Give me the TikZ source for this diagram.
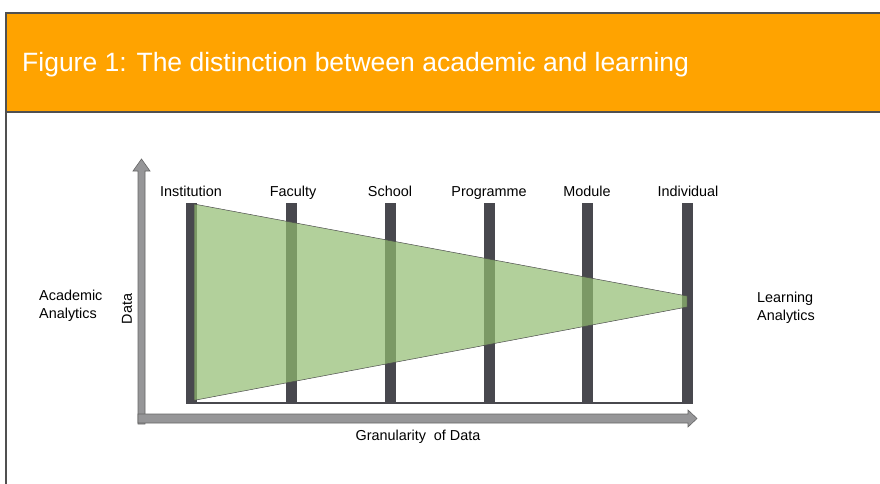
\documentclass[tikz,border=0pt]{standalone}
\usepackage{fontspec}
\setmainfont{Liberation Sans}
\definecolor{hdr}{RGB}{255,163,0}
\definecolor{frame}{RGB}{80,80,80}
\definecolor{barc}{RGB}{72,72,78}
\definecolor{grn}{RGB}{145,188,112}
\definecolor{axisc}{RGB}{150,150,152}
\begin{document}
\begin{tikzpicture}[x=1pt,y=-1pt,
  lbl/.style={font=\fontsize{14.4}{18}\selectfont, inner sep=0pt},
  collbl/.style={lbl, anchor=base},
  axisarrow/.style={fill=axisc, draw=gray!80!black, line width=0.6pt}]
\useasboundingbox (0,0) rectangle (880,484);
% header
\fill[hdr] (6,13) rectangle (880,112);
\draw[frame, line width=2pt] (880,13) -- (6,13) -- (6,484);
\draw[frame, line width=1.5pt] (6,112) -- (880,112);
\node[anchor=base west, inner sep=0pt, text=white, font=\fontsize{26.5}{30}\selectfont] (title) at (22,72) {Figure 1: The distinction between academic and learning};
% axes
\filldraw[axisarrow] (138,424) -- (138,171) -- (133,171) -- (141.5,159) -- (150,171) -- (145,171) -- (145,424) -- cycle;
\filldraw[axisarrow] (138,414) -- (688,414) -- (688,410) -- (697,418.5) -- (688,427) -- (688,423) -- (138,423) -- cycle;
% baseline between bars
\draw[barc, line width=2pt] (191,403) -- (687,403);
% bars
\foreach \x/\n in {191.5/b1,291/b2,390/b3,489/b4,587.5/b5,687.5/b6}{
  \fill[barc] (\x-5.5,203) rectangle (\x+5.5,404);
  \coordinate (\n) at (\x,203);
}
% green wedge
\filldraw[fill=grn, fill opacity=0.7, draw=gray!60!black, line width=0.5pt]
  (194,204) -- (687,296) -- (687,307) -- (196,400) -- (194,400) -- cycle;
% column labels
\node[collbl] (l1) at (191,196) {Institution};
\node[collbl] (l2) at (293,196) {Faculty};
\node[collbl] (l3) at (390,196) {School};
\node[collbl] (l4) at (489,196) {Programme};
\node[collbl] (l5) at (587,196) {Module};
\node[collbl] (l6) at (688,196) {Individual};
% side labels
\node[lbl, anchor=base west, align=left] (acad) at (39,318) {Academic\\Analytics};
\node[lbl, anchor=base west, align=left] (learn) at (757,320) {Learning\\Analytics};
\node[lbl, rotate=90] (data) at (127,309) {Data};
\node[lbl, anchor=base] (gran) at (418,440) {Granularity\ \ of Data};
\end{tikzpicture}
\end{document}
